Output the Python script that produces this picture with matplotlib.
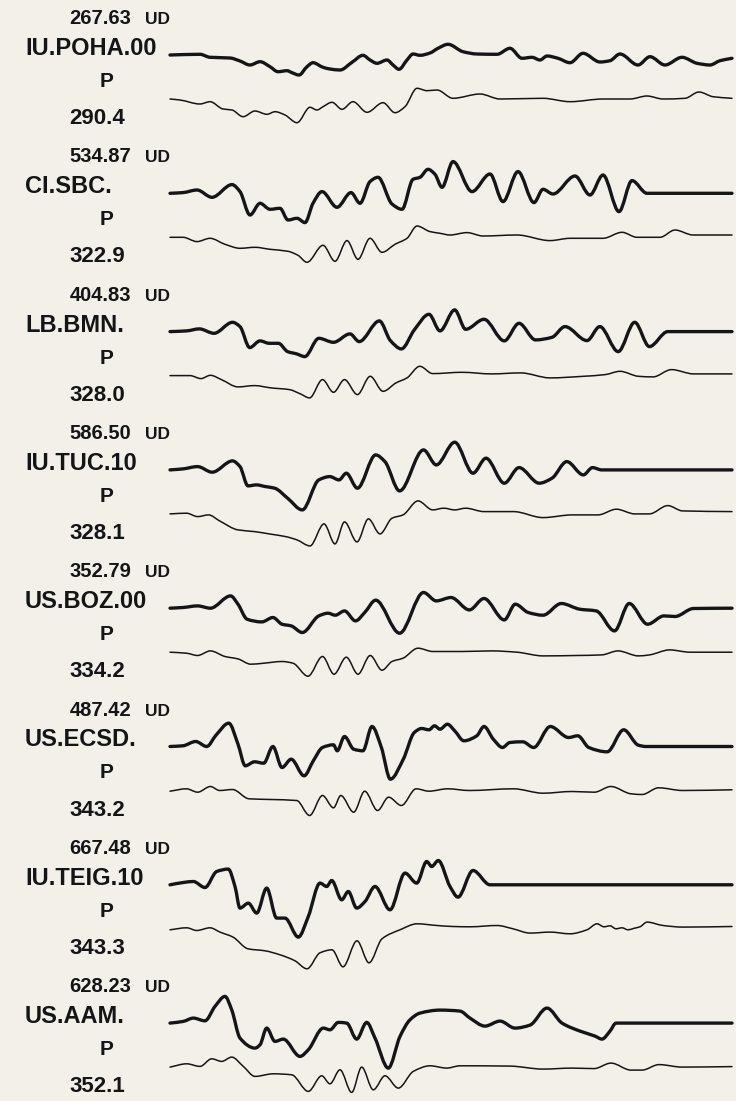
import numpy as np
import matplotlib.pyplot as plt
from matplotlib.path import Path
from matplotlib.patches import PathPatch

# --- station labels ---
stations = ["IU.POHA.00", "CI.SBC.", "LB.BMN.", "IU.TUC.10",
            "US.BOZ.00", "US.ECSD.", "IU.TEIG.10", "US.AAM."]
amplitudes = ["267.63", "534.87", "404.83", "586.50",
              "352.79", "487.42", "667.48", "628.23"]
distances = ["290.4", "322.9", "328.0", "328.1",
             "334.2", "343.2", "343.3", "352.1"]
phase = "P"
component = "UD"

# --- waveforms: sample index / normalized amplitude (obs = data, syn = synthetic) ---
poha_obs_t = [0, 30, 40, 60, 70, 80, 90, 100, 108, 117, 122, 129, 137, 143, 153, 160, 170, 182, 193, 200,
              207, 217, 223, 229, 237, 243, 250, 260, 268, 278, 293, 307, 327, 340, 352, 362, 370, 377,
              388, 400, 413, 430, 440, 450, 468, 480, 495, 512, 527, 540, 550, 562]
poha_obs_a = [0, 0.7, -2.3, -3, -6, -10, -6.7, -11.7, -16.7, -15.7, -17.7, -20, -11.7, -7.7, -12.3, -14, -15,
              -7.3, -0.3, -5, -8.3, -5, -10, -14.3, -5, 1, -0.3, 2, 6.7, 10.7, 3.3, 1, 0.7, 6.7, -3.3, -2.3,
              -5, -1, -3.3, -7.7, 1.7, -7, -5.7, 1, -10, -1.7, -10, -2.3, -8.3, -10, -5.7, -3.3]
poha_syn_t = [0, 10, 30, 40, 53, 62, 73, 85, 97, 105, 115, 127, 140, 147, 153, 162, 172, 183, 197, 213, 225,
              235, 247, 257, 267, 283, 310, 330, 373, 400, 433, 460, 477, 493, 515, 529, 543, 562]
poha_syn_a = [0, -1, -5, -2.7, -10, -11, -17.7, -12, -15.3, -12.7, -16, -23.7, -8.3, -11, -7.7, -3.3, -10.3,
              -2.7, -13.3, -3.7, -13.7, -7.7, 10.7, 8.3, 9, 0.7, 5, 0, 0.7, -2.7, 0, 0, 3, 0, 0.7, 7, 2.3, 0.7]

sbc_obs_t = [0, 13, 27, 42, 62, 70, 80, 90, 100, 110, 118, 127, 135, 143, 152, 167, 181, 190, 200, 208, 222,
             232, 243, 250, 258, 265, 272, 283, 302, 320, 333, 348, 364, 373, 383, 405, 420, 433, 449, 462,
             477, 562]
sbc_obs_a = [0, 0.7, 3.3, -4, 8.7, 1.7, -21.7, -10, -16, -15, -26.7, -25, -29.3, -10, 1.7, -14, 0.7, -10,
             11.7, 16, -10.7, -16, 14, 16, 24, 19, 6, 31.7, 1.7, 19.3, -8.3, 21.7, -9.3, 4, -0.7, 17.3, -1.7,
             18.3, -18.3, 12.7, 0, 0]
sbc_syn_t = [0, 13, 27, 40, 55, 70, 85, 100, 118, 128, 137, 153, 165, 177, 188, 200, 212, 225, 237, 247, 260,
             270, 280, 297, 313, 347, 380, 400, 433, 452, 467, 490, 505, 523, 562]
sbc_syn_a = [0, 0, -4.3, -1, -7, -11, -10, -12, -14, -18, -25, -8, -24, -3.3, -22, -1, -15, -7, -1, 11.3,
             5.7, 4, 2.3, 4.7, 1.3, 2.3, -3.3, -1, -1, 5, 0, 0, 7.3, 2.3, 2.3]

bmn_obs_t = [0, 16.5, 29.4, 44, 62.5, 70, 79.7, 90, 99.2, 108.4, 117.6, 126.7, 134.8, 148.8, 163.5, 180,
             189.2, 209.4, 220.4, 231.4, 244.3, 259, 270, 284.7, 295.7, 314, 334.3, 349, 365.5, 382, 395,
             417, 429.8, 448.2, 464.7, 479.4, 497.8, 562]
bmn_obs_a = [0, 0.7, 2.7, -1.7, 9.3, 5, -16, -9.3, -11.7, -11.7, -20, -22.3, -25, -6.7, -10.7, -2.3, -10,
             10.7, -9, -17.3, 1.7, 17.3, 0.7, 21.7, 2.3, 12.3, -9.3, 8.3, -8.3, -5.7, 5, -9, 5, -20, 9.3,
             -15, 0, 0]
bmn_syn_t = [0, 20, 31, 40.4, 51.4, 68, 84.5, 101, 119.4, 130.4, 139.6, 152.5, 163.5, 174.5, 187.4, 200.2,
             213, 226, 237, 249.8, 262.7, 292, 321.5, 350.8, 380, 413.3, 435.3, 450, 468.4, 483, 501.5,
             523.5, 562]
bmn_syn_a = [0, 0, -3, 0.3, -4, -11.3, -10, -12.3, -14, -18.3, -22.3, -4, -16.7, -4, -19, -0.7, -15.7, -7.3,
             -2.3, 9.3, 2, 3.3, 1.7, 2.7, -2.3, -0.7, 1, 4.3, -0.7, -1.3, 6, 1.7, 1.7]

tuc_obs_t = [0, 12.9, 27.6, 42.2, 62.5, 70, 78, 86.3, 95.5, 104.7, 117.6, 132.3, 148.8, 159.8, 169, 176.3,
             187.4, 205.7, 214.9, 229.6, 253.5, 266.3, 284.7, 303, 316, 334.3, 349, 369.2, 382, 396.8,
             413.3, 422.5, 431.7, 562]
tuc_obs_a = [0, 1, 3.3, -2.3, 9, 3.3, -16, -15, -16.7, -18.3, -28.3, -40, -10, -6.7, -10, -3.3, -18.3, 15,
             8.3, -21, 20, 5, 27.7, -3.3, 11.7, -13.3, 2.3, -13.3, -8.3, 8.3, -5, 2.3, 0, 0]
tuc_syn_t = [0, 16.5, 27.6, 38.6, 49.6, 68, 84.5, 101, 115.7, 127, 140, 154, 165, 174.5, 187, 198.4, 210,
             222, 233, 248, 262.7, 273.7, 284.7, 295.7, 314, 343.5, 373, 402, 428, 446.4, 464.7, 479.4,
             497.8, 512.5, 562]
tuc_syn_a = [0, 0.7, -2.7, -1, -7, -16, -17.7, -20.3, -22.7, -26, -32, -10, -30, -8, -28, -5, -20, -4.3,
             -1, 13, 4, 5.7, 4, 5.7, 2.3, 2.3, -3.7, -1, -1, 4.7, 0, 0, 8.3, 3, 2.3]

boz_obs_t = [0, 12.9, 27.6, 40.4, 60.6, 68, 77.1, 91.8, 102.9, 112, 121.2, 132.3, 148.8, 158, 165.3, 174.5,
             185.5, 194.7, 205.7, 229.6, 253.5, 266.3, 281, 299.4, 314, 334.3, 345.3, 358.2, 373, 391.3,
             409.7, 426.2, 444.5, 459.2, 477.6, 494, 505, 523.5, 562]
boz_obs_a = [0, 0.7, 2.3, 0, 12.3, 4, -11, -13.7, -9.3, -16, -17.7, -24.3, -7.7, -5, -7, -2.7, -12.7, -4.3,
             8, -25, 15.7, 7.3, 10.7, -1.7, 9.7, -11.7, 4, -4.3, -7, 4.7, -1, -2.7, -22.7, 4.7, -16, -7.7,
             -8.3, -0.3, 0]
boz_syn_t = [0, 16.5, 27.6, 40.4, 55, 68, 80.8, 93.7, 112, 123, 138, 152.5, 164, 176.3, 188, 200.2, 212,
             222, 233, 248, 262.7, 292, 321.5, 347, 373, 406, 431.7, 448, 468.4, 479.4, 499.6, 520, 562]
boz_syn_a = [0, -1, -3.3, 1.3, -4.3, -6.7, -12, -11, -9.3, -11, -24, -4.3, -22, -5, -22, -3.3, -18, -9.3,
             -6, 4, 0.7, 0.7, 1.3, 0, -3.7, -3.3, -2.7, 1.3, -3.7, -2.7, 2.3, 0, 0]

ecsd_obs_t = [0, 12.9, 25.7, 36.7, 46, 58.8, 68, 75.3, 84.5, 93.7, 102.9, 112, 121.2, 134.1, 143.3, 152.5,
              163.5, 167.2, 174.5, 183.7, 192.9, 202, 211.3, 220.4, 233.3, 244.3, 251.6, 259, 264.5, 270,
              277.4, 284.7, 293.9, 306.8, 314, 323.3, 332.5, 339.8, 352.7, 363.7, 380.3, 398.6, 407.8,
              418.8, 437.2, 453.7, 468.4, 475.8, 562]
ecsd_obs_a = [0, 0.7, 5, 0, 11.3, 23.3, 2.3, -19.3, -15.3, -16.7, 0, -21, -12.7, -29.3, -14.3, -1, 1.7,
              -4.3, 10, -2.7, -4.3, 20, -0.7, -32.7, -12.7, 14, 18, 16.7, 20.7, 17.3, 22.3, 15.7, 5.7, 10.7,
              20, 7.3, -1, 4, 4.7, -1, 20, 9, 10.7, -1, -5.3, 16.7, 1.3, 0, 0]
ecsd_syn_t = [0, 16.5, 27.6, 40.4, 49.6, 62.5, 79, 101, 126.7, 139.6, 152.5, 163.5, 170.8, 183.7, 194.7,
              207.6, 218.6, 231.4, 246.1, 259, 277.4, 299.4, 343.5, 373, 402, 424.3, 440.9, 461, 472,
              488.6, 512.5, 562]
ecsd_syn_a = [-0.7, 1.7, -1.7, 4, 0, 1, -8.3, -9, -10, -25, -5, -17.3, -5, -21.7, -0.7, -20, -6.7, -15,
              1.7, -0.7, 1.7, 0, 1.7, -2.7, -1, -1.7, 4, -3.3, -4, 2.7, 0, 0.7]

teig_obs_t = [0, 13.3, 23.3, 35, 46.7, 58.3, 65, 70, 78.3, 86.7, 96.7, 106.7, 115, 128.3, 138.3, 150, 156.7,
              161.7, 171.7, 178.3, 186.7, 195, 205, 220, 235, 246.7, 256.7, 261.7, 268.3, 280, 288, 303,
              320, 562]
teig_obs_a = [0, 2.3, 3.3, -2.7, 13.3, 15.7, -1.7, -23.3, -18.3, -28.3, -3.3, -33.3, -33.3, -52.3, -31.7,
              1.7, -1.7, 4.3, -15, -6.7, -23.3, -16.7, -1.7, -25, 11.7, 1.7, 23.3, 18.3, 24.3, -1.7, -12.3,
              14.3, 0, 0]
teig_syn_t = [0, 16.7, 26.7, 40, 50, 63, 78, 95, 110, 125, 137, 150, 162, 173, 187, 199, 212, 230, 247, 267,
              283, 300, 327, 343, 360, 380, 400, 417, 427, 434, 440, 446, 452, 458, 464, 470, 477, 493, 513,
              562]
teig_syn_a = [-1, 1, -1.7, 1, -3.3, -8.3, -20, -22, -26, -32, -40, -24, -21, -38, -12, -34, -10, -1, 5, 3.3,
              2.3, 2, 3.3, 0, -4.3, -3.3, -5, -1, 5, 2, 3, 0, 1, -1, 0.5, 2, 6.7, 3.3, 1.7, 2.3]

aam_obs_t = [0, 13.3, 23.3, 35, 45, 55, 61.7, 70, 85, 90, 96.7, 105, 113.3, 130, 138.3, 153.3, 160, 168.3,
             176.7, 186.7, 196.7, 205, 218.3, 230, 240, 250, 270, 290, 300, 315, 330, 345, 360, 377, 392,
             410, 425, 432, 440, 446, 562]
aam_obs_a = [0, 1.7, 5, 2.3, 16.7, 26.7, 13.3, -15, -25, -21.7, -5, -18.3, -16, -33.3, -26.7, -5, -6.7, 0.7,
             0, -16, 0.7, -15, -45, -13.3, 3.3, 10, 13, 12, 5, -3, 2, -5, -2, 15, 0, -8, -13, -16, -8, 0,
             0]
aam_syn_t = [0, 16.7, 30, 41.7, 51.7, 61.7, 73.3, 85, 103.3, 121.7, 138.3, 151.7, 160, 170, 181.7, 191.7,
             203.3, 215, 228.3, 243.3, 260, 276.7, 290, 340, 373, 402, 424, 441, 461, 472, 489, 512, 562]
aam_syn_a = [0, 3.3, 0.7, 8.3, 5.7, 10, 0.7, -9.3, -6.7, -7.7, -24.3, -8.7, -16.7, -2.7, -25.3, 0, -22.7,
             -8.7, -21, -4.3, 1.3, -1, 1.3, 1, -2, -1, -1.5, 4, -3, -3, 2.5, 0, 0.5]

observed = [(poha_obs_t, poha_obs_a), (sbc_obs_t, sbc_obs_a), (bmn_obs_t, bmn_obs_a),
            (tuc_obs_t, tuc_obs_a), (boz_obs_t, boz_obs_a), (ecsd_obs_t, ecsd_obs_a),
            (teig_obs_t, teig_obs_a), (aam_obs_t, aam_obs_a)]
synthetic = [(poha_syn_t, poha_syn_a), (sbc_syn_t, sbc_syn_a), (bmn_syn_t, bmn_syn_a),
             (tuc_syn_t, tuc_syn_a), (boz_syn_t, boz_syn_a), (ecsd_syn_t, ecsd_syn_a),
             (teig_syn_t, teig_syn_a), (aam_syn_t, aam_syn_a)]


def smooth_path(x, y):
    """Monotone (Fritsch-Carlson) hermite curve drawn as bezier segments."""
    x = np.asarray(x, float)
    y = np.asarray(y, float)
    h = np.diff(x)
    d = np.diff(y) / h
    m = np.zeros_like(y)
    m[0], m[-1] = d[0], d[-1]
    for k in range(1, len(y) - 1):
        if d[k - 1] * d[k] > 0:
            w1 = 2 * h[k] + h[k - 1]
            w2 = h[k] + 2 * h[k - 1]
            m[k] = (w1 + w2) / (w1 / d[k - 1] + w2 / d[k])
    verts = [(x[0], y[0])]
    codes = [Path.MOVETO]
    for k in range(len(y) - 1):
        s = h[k] / 3.0
        verts += [(x[k] + s, y[k] + m[k] * s),
                  (x[k + 1] - s, y[k + 1] - m[k + 1] * s),
                  (x[k + 1], y[k + 1])]
        codes += [Path.CURVE4] * 3
    return Path(verts, codes)


bg = "#f3f0ea"
fig = plt.figure(figsize=(7.36, 11.01), dpi=100, facecolor=bg)
ax = fig.add_axes([0, 0, 1, 1])
ax.set_xlim(-170, 566)
ax.set_ylim(-1101, 0)
ax.axis("off")

spacing = 138.3
gap = 44
font = "Liberation Sans"
ink = "#151515"

for i in range(len(stations)):
    y0 = -55 - spacing * i
    t, a = observed[i]
    ax.add_patch(PathPatch(smooth_path(t, np.array(a) + y0), fill=False,
                           lw=2.4, edgecolor=ink, capstyle="round", joinstyle="round"))
    t, a = synthetic[i]
    ax.add_patch(PathPatch(smooth_path(t, np.array(a) + y0 - gap), fill=False,
                           lw=1.1, edgecolor=ink, capstyle="round", joinstyle="round"))

    ax.text(-39, y0 + 31, amplitudes[i], ha="right", va="baseline", fontsize=14.5,
            fontweight="bold", family=font, color=ink)
    ax.text(-25, y0 + 31, component, ha="left", va="baseline", fontsize=12.5,
            fontweight="bold", family=font, color=ink)
    ax.text(-145, y0, stations[i], ha="left", va="baseline", fontsize=17,
            fontweight="bold", family=font, color=ink)
    ax.text(-63, y0 - 32, phase, ha="center", va="baseline", fontsize=15,
            fontweight="bold", family=font, color=ink)
    ax.text(-73, y0 - 69, distances[i], ha="center", va="baseline", fontsize=16,
            fontweight="bold", family=font, color=ink)

fig.savefig("out.png", dpi=100, facecolor=bg)
